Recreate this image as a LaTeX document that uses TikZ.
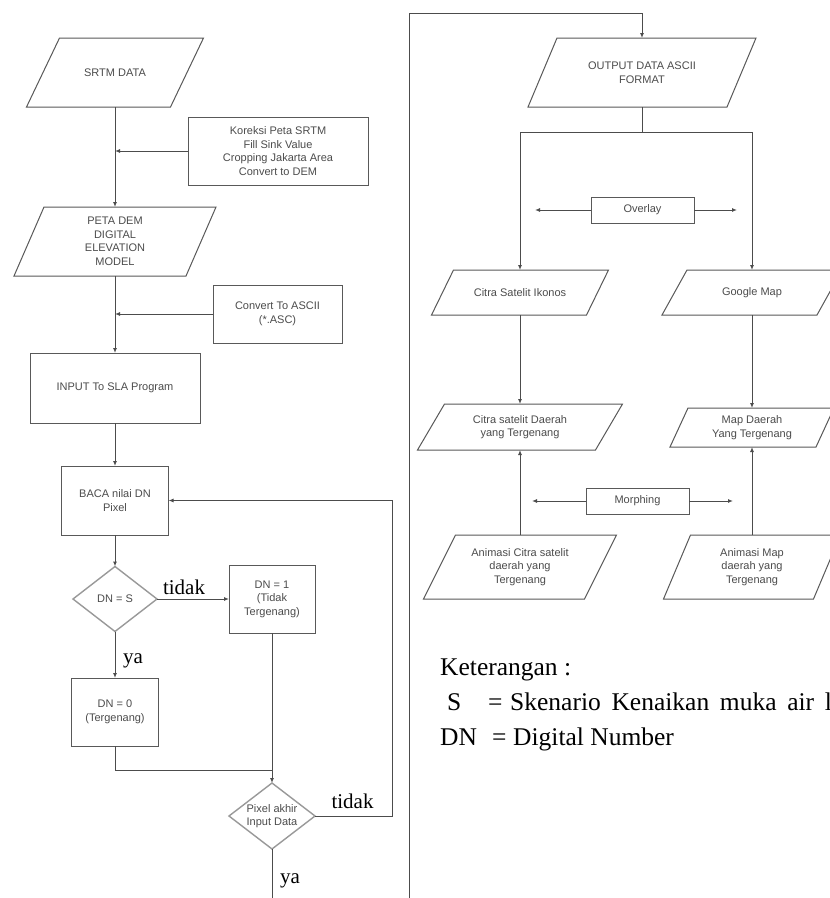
\documentclass[tikz,border=0pt]{standalone}
\usepackage{fontspec}
\setmainfont{Liberation Serif}
\setsansfont{Liberation Sans}
\usetikzlibrary{arrows.meta,shapes.geometric}

\newcommand{\parabox}[7]{%
  \node[btext, minimum width=#4, minimum height=#5] (#1) at (#2,#3) {#7};
  \draw[shp] ([xshift=#6/2]#1.north west) -- ([xshift=#6/2]#1.north east) -- ([xshift=-#6/2]#1.south east) -- ([xshift=-#6/2]#1.south west) -- cycle;}

\tikzset{
  btext/.style={font=\sffamily\fontsize{11}{13.5}\selectfont, text=black!70, align=center, inner sep=0pt, outer sep=0pt},
  shp/.style={draw=black!65, line width=1pt},
  rbox/.style={btext, rectangle, draw=black!65, line width=1pt},
  dia/.style={diamond, draw=black!40, line width=1.4pt, inner sep=0pt, outer sep=0pt},
  conn/.style={draw=black!70, line width=1pt},
  arr/.style={conn, -{Latex[length=5pt,width=4pt]}},
  lbl/.style={font=\fontsize{21}{25}\selectfont, inner sep=0pt},
  leg/.style={font=\fontsize{25.5}{30}\selectfont, inner sep=0pt}
}

\begin{document}
\begin{tikzpicture}[x=1pt,y=-1pt]
\useasboundingbox (0,0) rectangle (830,898);
\fill[white] (0,0) rectangle (830,898);
\clip (0,0) rectangle (830,898);

% ---------- left column ----------
\parabox{srtm}{115}{72.5}{144}{69}{33}{SRTM DATA}
\node[rbox, minimum width=180, minimum height=68] (kor) at (278,151) {Koreksi Peta SRTM\\Fill Sink Value\\Cropping Jakarta Area\\Convert to DEM};
\parabox{dem}{115}{241.5}{172}{69}{30}{PETA DEM\\DIGITAL\\ELEVATION\\MODEL}
\node[rbox, minimum width=129, minimum height=58] (asc) at (277.5,314) {Convert To ASCII\\(*.ASC)};
\node[rbox, minimum width=170, minimum height=70] (inp) at (115,388) {INPUT To SLA Program};
\node[rbox, minimum width=107, minimum height=69] (baca) at (115,500.5) {BACA nilai DN\\Pixel};
\node[dia, minimum width=84, minimum height=65] (dns) at (115,599) {};
\node[btext] (dnst) at (dns.center) {DN = S};
\node[rbox, minimum width=86, minimum height=68] (dn1) at (272,599) {DN = 1\\(Tidak\\Tergenang)};
\node[rbox, minimum width=87, minimum height=68] (dn0) at (115,712) {DN = 0\\(Tergenang)};
\node[dia, minimum width=86, minimum height=66] (pix) at (272,816) {};
\node[btext] (pixt) at (pix.center) {Pixel akhir\\Input Data};

% ---------- right column ----------
\parabox{out}{642}{72.5}{199}{69}{29}{OUTPUT DATA ASCII\\FORMAT}
\coordinate (sp) at (642,132);
\parabox{ikon}{520}{292.5}{155}{45}{22}{Citra Satelit Ikonos}
\parabox{gmap}{752}{292.5}{155}{45}{25}{Google Map}
\node[rbox, minimum width=103, minimum height=26] (ov) at (642.5,210) {Overlay};
\coordinate (ovl) at (535,210);
\coordinate (ovr) at (737,210);
\parabox{citd}{520}{427}{178}{46}{27}{Citra satelit Daerah\\yang Tergenang}
\parabox{mapd}{752}{427.5}{146}{39}{18}{Map Daerah\\Yang Tergenang}
\node[rbox, minimum width=103, minimum height=26] (mor) at (637.5,501) {Morphing};
\coordinate (mol) at (532,501);
\coordinate (mor2) at (733,501);
\parabox{animc}{520}{567}{161}{64}{32}{Animasi Citra satelit\\daerah yang\\Tergenang}
\parabox{animm}{752}{567}{150}{64}{27}{Animasi Map\\daerah yang\\Tergenang}

% ---------- connectors left ----------
\draw[arr] (srtm.south) -- (dem.north);
\draw[arr] (kor.west) -- (kor.west -| srtm.south);
\draw[arr] (dem.south) -- (inp.north);
\draw[arr] (asc.west) -- (asc.west -| dem.south);
\draw[arr] (inp.south) -- (baca.north);
\draw[arr] (baca.south) -- (dns.north);
\draw[arr] (dns.east) -- (dn1.west);
\draw[arr] (dns.south) -- (dn0.north);
\coordinate (m1) at (115,770);
\draw[conn] (dn0.south) -- (m1) -- (m1 -| dn1.south);
\draw[arr] (dn1.south) -- (pix.north);
\coordinate (r1) at (392,816);
\draw[arr] (pix.east) -- (r1) |- (baca.east);
\coordinate (b1) at (272,915);
\coordinate (b2) at (409.5,915);
\coordinate (t1) at (409.5,13);
\draw[arr] (pix.south) -- (b1) -- (b2) -- (t1) -| (out.north);

\node[lbl, anchor=base] (ltid1) at (184,594) {tidak};
\node[lbl, anchor=base west] (lya1) at (123,663) {ya};
\node[lbl, anchor=base] (ltid2) at (352.5,808) {tidak};
\node[lbl, anchor=base west] (lya2) at (280,883) {ya};

% ---------- connectors right ----------
\draw[conn] (out.south) -- (sp);
\draw[arr] (sp) -| (ikon.north);
\draw[arr] (sp) -| (gmap.north);
\draw[arr] (ov.west) -- (ovl);
\draw[arr] (ov.east) -- (ovr);
\draw[arr] (ikon.south) -- (citd.north);
\draw[arr] (gmap.south) -- (mapd.north);
\draw[arr] (animc.north) -- (citd.south);
\draw[arr] (animm.north) -- (mapd.south);
\draw[arr] (mor.west) -- (mol);
\draw[arr] (mor.east) -- (mor2);

% ---------- legend ----------
\node[leg, anchor=base west] (ket) at (440,675) {Keterangan :};
\node[leg, anchor=base west] (ls) at (447,710) {S};
\node[leg, anchor=base west] (leq1) at (488,710) {=};
\node[leg, anchor=base west] (lsk) at (510,710) {\spaceskip=0.42em Skenario Kenaikan muka air laut};
\node[leg, anchor=base west] (ldn) at (440,745) {DN};
\node[leg, anchor=base west] (leq2) at (492,745) {=};
\node[leg, anchor=base west] (ldg) at (513,745) {Digital Number};
\end{tikzpicture}
\end{document}
